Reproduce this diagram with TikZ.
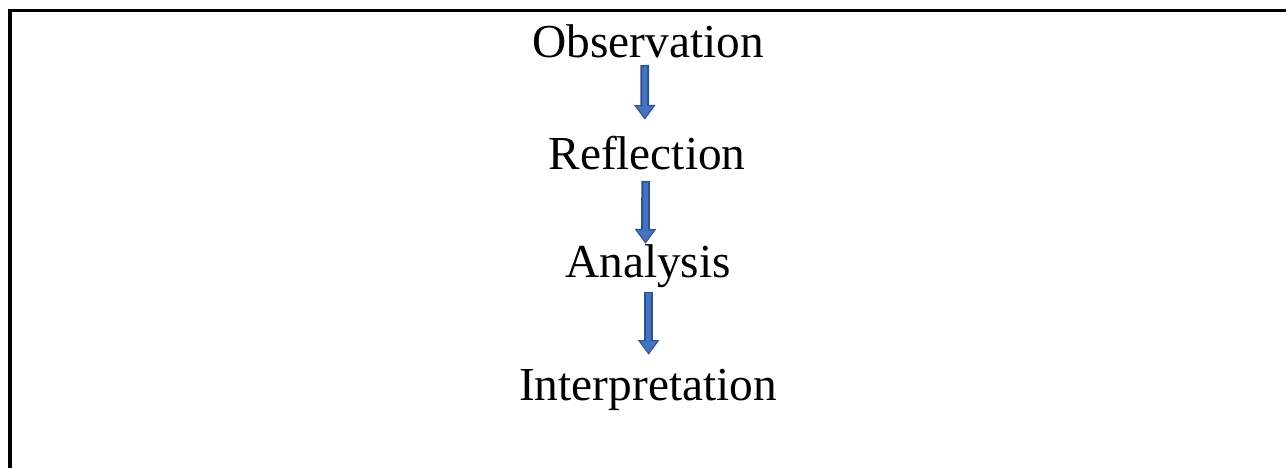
\documentclass[tikz,border=0pt]{standalone}
\usepackage{fontspec}
\setmainfont{Liberation Serif}
\usetikzlibrary{arrows.meta}
\definecolor{arrowblue}{HTML}{4472C4}
\definecolor{arrowedge}{HTML}{2F528F}
\tikzset{
  stage/.style={inner sep=0pt, anchor=base, font=\fontsize{35.5}{40}\selectfont},
  flow/.style={draw=arrowedge, line width=6.5, -{Triangle[width=16,length=11,fill=arrowblue,line width=0.8]}},
  flowfill/.style={draw=arrowblue, line width=3.5, -}
}
\begin{document}
\begin{tikzpicture}[x=0.75pt,y=-0.75pt, line cap=butt]
 \useasboundingbox (0,0) rectangle (1286,468);
 \draw[line width=2.4] (10,468) -- (10,10.5) -- (1286,10.5);
 \node[stage] (obs) at (648,57) {Observation};
 \node[stage] (refl) at (647,169) {Reflection};
 \node[stage] (ana) at (648,277) {Analysis};
 \node[stage] (inter) at (648,400) {Interpretation};
 % arrows between the base lines
 \draw[flow, shorten <=6, shorten >=37] ([xshift=-2.5]obs.base) -- ([xshift=-1.5]refl.base);
 \draw[flowfill, shorten <=7, shorten >=47] ([xshift=-2.5]obs.base) -- ([xshift=-1.5]refl.base);
 \draw[flow, shorten <=9, shorten >=25] ([xshift=-1]refl.base) -- ([xshift=-2]ana.base);
 \draw[flowfill, shorten <=10, shorten >=35] ([xshift=-1]refl.base) -- ([xshift=-2]ana.base);
 \draw[flow, shorten <=11, shorten >=34] ([xshift=0.5]ana.base) -- ([xshift=0.5]inter.base);
 \draw[flowfill, shorten <=12, shorten >=44] ([xshift=0.5]ana.base) -- ([xshift=0.5]inter.base);
\end{tikzpicture}
\end{document}
